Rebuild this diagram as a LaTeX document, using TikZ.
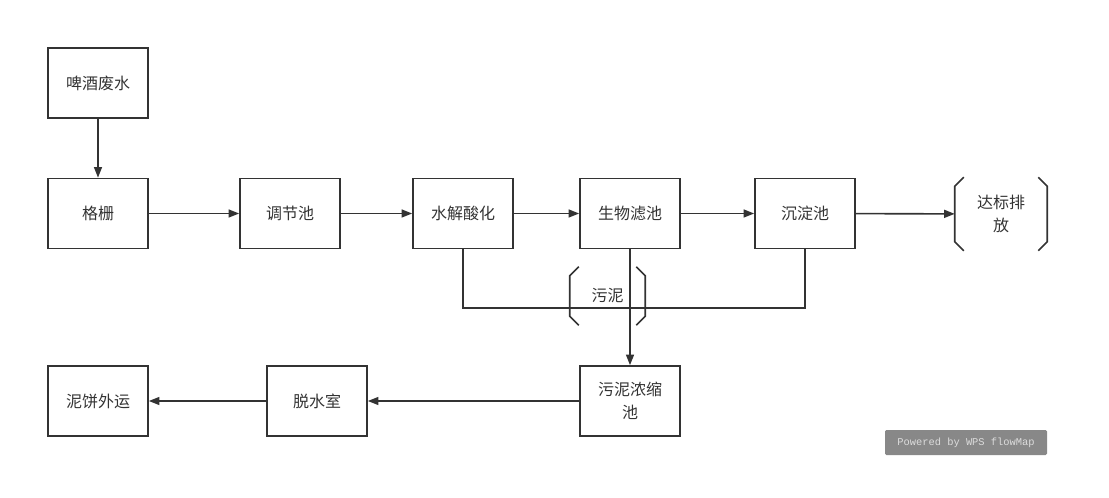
\documentclass[tikz,border=0pt]{standalone}
\usepackage{fontspec}
\setmainfont{Noto Sans CJK SC}
\setmonofont{Liberation Mono}
\usetikzlibrary{arrows.meta,calc}
\definecolor{crta}{HTML}{333333}
\newcommand{\Oklep}[1]{% oglati oklepaji okoli vozla
	\draw[crta,line width=1.2pt] ($(#1.north west)+(9,0)$)--($(#1.north west)+(0,9)$)--($(#1.south west)+(0,-9)$)--($(#1.south west)+(9,0)$);
	\draw[crta,line width=1.2pt] ($(#1.north east)+(-9,0)$)--($(#1.north east)+(0,9)$)--($(#1.south east)+(0,-9)$)--($(#1.south east)+(-9,0)$);
	}

\begin{document}
\begin{tikzpicture}[x=0.75pt,y=-0.75pt,
	okvir/.style={draw=crta,line width=1.2pt,minimum width=75pt,minimum height=52.5pt,inner sep=0pt,text=crta,align=center,font=\fontsize{12}{17}\selectfont},
	oklepaj/.style={inner sep=0pt,text=crta,align=center,font=\fontsize{12}{17}\selectfont},
	puscica/.style={-{Triangle[length=8pt,width=6pt]},draw=crta,line width=1.2pt}]
	\useasboundingbox (0,0) rectangle (1109,498);
	\node[okvir] (voda) at (98,83) {啤酒废水};
	\node[okvir] (resetka) at (98,213.5) {格栅};
	\node[okvir] (bazen) at (290,213.5) {调节池};
	\node[okvir] (hidro) at (463,213.5) {水解酸化};
	\node[okvir] (filter) at (630,213.5) {生物滤池};
	\node[okvir] (usedalnik) at (805,213.5) {沉淀池};
	\node[oklepaj,minimum width=69pt,minimum height=54.75pt] (izpust) at (1001,214) {达标排\\放};
	\Oklep{izpust}
	\node[okvir] (zgoscevalnik) at (630,401) {污泥浓缩\\池};
	\node[okvir] (dehidr) at (317,401) {脱水室};
	\node[okvir] (odvoz) at (98,401) {泥饼外运};
	\draw[puscica] (voda)--(resetka);
	\draw[puscica] (resetka)--(bazen);
	\draw[puscica] (bazen)--(hidro);
	\draw[puscica] (hidro)--(filter);
	\draw[puscica] (filter)--(usedalnik);
	\draw[puscica] (usedalnik)--(izpust);
	% blato
	\draw[crta,line width=1.2pt] (hidro.south)--++(0,59) -| (usedalnik.south);
	\node[oklepaj,minimum width=56.25pt,minimum height=43.5pt] (blato) at (607.5,296) {污泥};
	\Oklep{blato}
	\draw[puscica] (filter)--(zgoscevalnik);
	\draw[puscica] (zgoscevalnik)--(dehidr);
	\draw[puscica] (dehidr)--(odvoz);
	\node[fill={rgb,255:red,136;green,136;blue,136},rounded corners=1pt,minimum width=121.5pt,minimum height=18.75pt,inner sep=0pt,text={rgb,255:red,220;green,220;blue,220}] (vodni) at (966,442.5) {\ttfamily\fontsize{7.8}{9}\selectfont Powered by WPS flowMap};
\end{tikzpicture}
\end{document}
